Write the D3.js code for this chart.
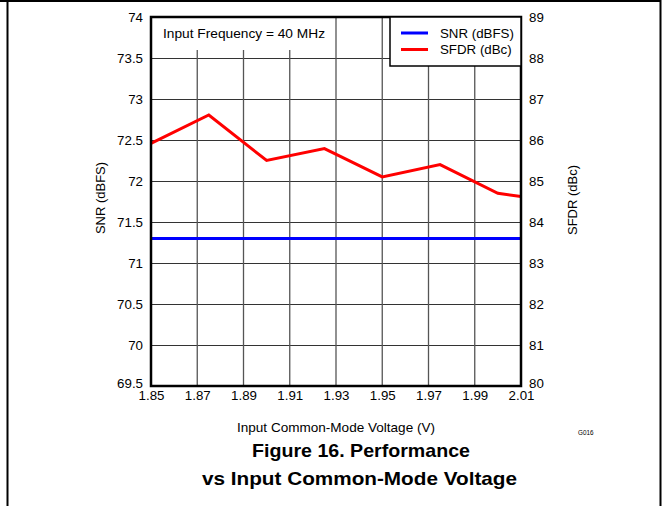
<!DOCTYPE html>
<html><head><meta charset="utf-8">
<script src="https://cdn.jsdelivr.net/npm/d3@7"></script>
<style>body{margin:0;background:#fff}svg{display:block;font-family:"Liberation Sans",Arial,sans-serif}</style>
</head><body><svg id="c" width="667" height="506"></svg>
<script>
const voltage = [1.85, 1.875, 1.90, 1.925, 1.95, 1.975, 2.00, 2.01];
const snr = [71.3, 71.3, 71.3, 71.3, 71.3, 71.3, 71.3, 71.3];
const sfdr = [85.92, 86.61, 85.50, 85.79, 85.10, 85.40, 84.70, 84.62];
const xTicks = [1.85, 1.87, 1.89, 1.91, 1.93, 1.95, 1.97, 1.99, 2.01];
const yLeftTicks = [69.5, 70, 70.5, 71, 71.5, 72, 72.5, 73, 73.5, 74];
const yRightTicks = [80, 81, 82, 83, 84, 85, 86, 87, 88, 89];
const seriesNames = ["SNR (dBFS)", "SFDR (dBc)"];
const seriesColors = ["#0000ff", "#ff0000"];

const svg = d3.select("#c");
const L = 151, R = 521, T = 17, B = 386;
const x = d3.scaleLinear().domain([1.85, 2.01]).range([L, R]);
const yL = d3.scaleLinear().domain([69.5, 74]).range([B, T]);
const yR = d3.scaleLinear().domain([80, 89]).range([B, T]);

// page border
svg.append("path").attr("d", "M0,1H660.5V506M7.5,1V506").attr("fill","none").attr("stroke","#000").attr("stroke-width",2);

// grid
const g = svg.append("g");
g.selectAll("line.h").data(yLeftTicks.slice(1,-1)).join("line")
  .attr("x1", L).attr("x2", R).attr("y1", d=>Math.round(yL(d))+0.5).attr("y2", d=>Math.round(yL(d))+0.5)
  .attr("stroke", "#333").attr("stroke-width", 1.2);
g.selectAll("line.v").data(xTicks.slice(1,-1)).join("line")
  .attr("y1", T).attr("y2", B).attr("x1", d=>x(d)).attr("x2", d=>x(d))
  .attr("stroke", "#555").attr("stroke-width", 1.3);

// annotation box
svg.append("rect").attr("x", L).attr("y", T).attr("width", 183).attr("height", 33).attr("fill", "#fff");
svg.append("text").attr("x", 163).attr("y", 38).attr("font-size", 13.5)
  .attr("textLength", 162).attr("lengthAdjust","spacingAndGlyphs").text("Input Frequency = 40 MHz");

// series
const line = (yS) => d3.line().x((d,i)=>x(voltage[i])).y(d=>yS(d));
svg.append("path").datum(snr).attr("d", line(yL)).attr("fill","none").attr("stroke", seriesColors[0]).attr("stroke-width", 3);
svg.append("path").datum(sfdr).attr("d", line(yR)).attr("fill","none").attr("stroke", seriesColors[1]).attr("stroke-width", 3).attr("stroke-linejoin","miter");

// frame
svg.append("rect").attr("x", L).attr("y", T).attr("width", R-L).attr("height", B-T).attr("fill","none").attr("stroke","#000").attr("stroke-width", 2.5);

// legend
const lg = svg.append("g");
lg.append("rect").attr("x", 390).attr("y", T).attr("width", R-390).attr("height", 49).attr("fill","#fff").attr("stroke","#000").attr("stroke-width",1.5);
seriesNames.forEach((n,i)=>{
  const yy = 33 + i*16.5;
  lg.append("line").attr("x1",401).attr("x2",428).attr("y1",yy).attr("y2",yy).attr("stroke",seriesColors[i]).attr("stroke-width",3);
  lg.append("text").attr("x",440).attr("y",yy+4.8).attr("font-size",13.3).text(n);
});

// axes (labels only)
const axL = svg.append("g").attr("transform", `translate(${L},0)`).call(d3.axisLeft(yL).tickValues(yLeftTicks).tickSize(0).tickPadding(8).tickFormat(d=>d3.format("")(d)));
const axR = svg.append("g").attr("transform", `translate(${R},0)`).call(d3.axisRight(yR).tickValues(yRightTicks).tickSize(0).tickPadding(8));
const axB = svg.append("g").attr("transform", `translate(0,${B})`).call(d3.axisBottom(x).tickValues(xTicks).tickSize(0).tickPadding(5).tickFormat(d3.format(".2f")));
[axL, axR, axB].forEach(a=>{ a.select(".domain").remove(); a.selectAll("text").attr("font-size",13.3).attr("font-family","Liberation Sans, Arial, sans-serif").attr("fill","#000"); });
axL.selectAll(".tick").filter(d=>d===69.5).select("text").attr("dy","0.1em");
axR.selectAll(".tick").filter(d=>d===80).select("text").attr("dy","0.1em");

// axis titles
svg.append("text").attr("transform","translate(105,198) rotate(-90)").attr("text-anchor","middle").attr("font-size",13).text("SNR (dBFS)");
svg.append("text").attr("transform","translate(577,200) rotate(-90)").attr("text-anchor","middle").attr("font-size",13).text("SFDR (dBc)");
svg.append("text").attr("x",237).attr("y",432).attr("font-size",13)
  .attr("textLength",198).attr("lengthAdjust","spacingAndGlyphs").text("Input Common-Mode Voltage (V)");
svg.append("text").attr("x",578).attr("y",435).attr("font-size",7.5)
  .attr("textLength",15.5).attr("lengthAdjust","spacingAndGlyphs").text("G016");
svg.append("text").attr("x",252).attr("y",457).attr("font-size",18.5).attr("font-weight","bold")
  .attr("textLength",218).attr("lengthAdjust","spacingAndGlyphs").text("Figure 16. Performance");
svg.append("text").attr("x",202).attr("y",485).attr("font-size",18.5).attr("font-weight","bold")
  .attr("textLength",315).attr("lengthAdjust","spacingAndGlyphs").text("vs Input Common-Mode Voltage");
</script></body></html>
